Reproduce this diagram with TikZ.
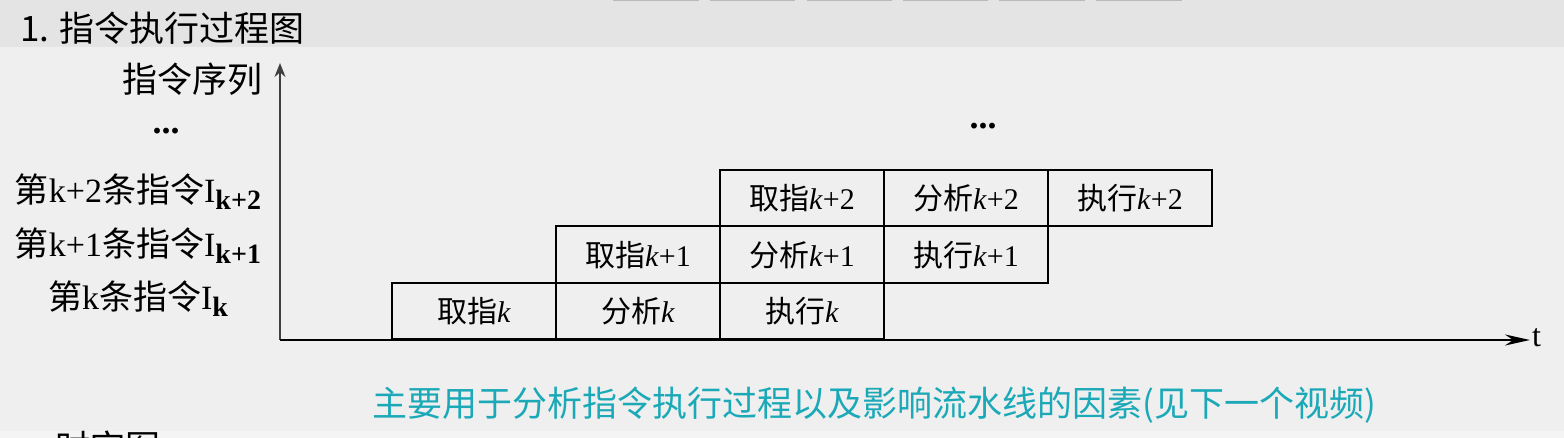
\documentclass[tikz,border=0pt]{standalone}
\usepackage{fontspec}
\setmainfont{Liberation Serif}
\newfontfamily\zh{Noto Sans CJK SC}
\usepackage{tikz}
\usetikzlibrary{arrows.meta}
\definecolor{bgmain}{HTML}{EFEFEF}
\definecolor{bgtop}{HTML}{E4E4E4}
\definecolor{bgbottom}{HTML}{F4F4F4}
\definecolor{notecyan}{HTML}{1BA9B8}
\newcommand{\setfs}[1]{\fontsize{#1pt}{#1pt}\selectfont}
\newcommand{\instsub}[1]{\raisebox{-7pt}{\setfs{28}\bfseries #1}}

\begin{document}
\begin{tikzpicture}[x=1pt, y=-1pt, every node/.style={inner sep=0pt, outer sep=0pt},
  stage/.style={draw, line width=2pt, minimum width=164pt, minimum height=56.5pt, font=\setfs{30}},
  rowlabel/.style={anchor=base, font=\setfs{34}},
  dotsmark/.style={font=\bfseries\setfs{36}}]
  \useasboundingbox (0,0) rectangle (1564,438);
  \clip (0,0) rectangle (1564,438);
  % background bands
  \fill[bgmain] (0,47) rectangle (1564,431);
  \fill[bgtop] (0,0) rectangle (1564,47);
  \fill[bgbottom] (0,431) rectangle (1564,438);
  \foreach \a/\b in {613/699,710/795,807/892,903/988,999/1085,1096/1182}
    \fill[gray!55] (\a,0) rectangle (\b,1.5);
  % headings
  \node[font=\zh\setfs{35}, anchor=west] (title) at (20,28) {1. 指令执行过程图};
  \node[font=\zh\setfs{35}] (seq) at (192,79) {指令序列};
  \node[dotsmark] (dotsL) at (166,131) {...};
  \node[dotsmark] (dotsM) at (983,126) {...};
  % instruction labels
  \node[rowlabel] (lab2) at (138,203) {{\zh 第}k+2{\zh 条指令}I\instsub{k+2}};
  \node[rowlabel] (lab1) at (138,257) {{\zh 第}k+1{\zh 条指令}I\instsub{k+1}};
  \node[rowlabel] (lab0) at (138,310) {{\zh 第}k{\zh 条指令}I\instsub{k}};
  % pipeline stages
  \node[stage] (f0) at (474,311.25) {{\zh 取指}\textit{k}};
  \node[stage] (a0) at (638,311.25) {{\zh 分析}\textit{k}};
  \node[stage] (e0) at (802,311.25) {{\zh 执行}\textit{k}};
  \node[stage] (f1) at (638,254.75) {{\zh 取指}\textit{k}+1};
  \node[stage] (a1) at (802,254.75) {{\zh 分析}\textit{k}+1};
  \node[stage] (e1) at (966,254.75) {{\zh 执行}\textit{k}+1};
  \node[stage] (f2) at (802,198.25) {{\zh 取指}\textit{k}+2};
  \node[stage] (a2) at (966,198.25) {{\zh 分析}\textit{k}+2};
  \node[stage] (e2) at (1130,198.25) {{\zh 执行}\textit{k}+2};
  % axes
  \coordinate (O) at (280,340);
  \coordinate (ytip) at (280,63);
  \coordinate (xtip) at (1530,340);
  \draw[line width=1.6pt, draw=black!75, -{Stealth[length=14pt,width=11pt]}] (O) -- (ytip);
  \draw[line width=2.6pt, -{Stealth[length=25pt,width=11pt]}] (O) -- (xtip);
  \node[font=\setfs{32}, anchor=base west] (tlabel) at (1532,347) {t};
  % note
  \node[font=\zh\setfs{35}, text=notecyan] (note) at (874,405) {主要用于分析指令执行过程以及影响流水线的因素(见下一个视频)};
  \node[font=\zh\setfs{35}, anchor=north west] (next) at (55,431) {时空图};
\end{tikzpicture}
\end{document}
